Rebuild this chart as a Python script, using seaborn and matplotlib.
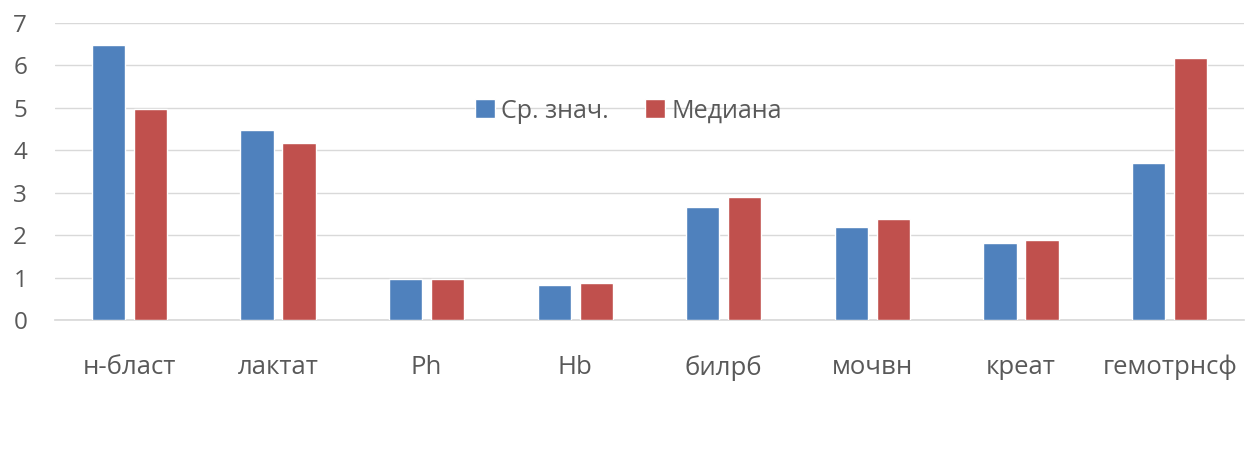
import matplotlib
matplotlib.use("Agg")
import matplotlib.pyplot as plt
import seaborn as sns
import pandas as pd

categories = ["н-бласт", "лактат", "Ph", "Hb", "билрб", "мочвн", "креат", "гемотрнсф"]
mean_vals = [6.47, 4.48, 0.96, 0.83, 2.67, 2.20, 1.81, 3.69]
median_vals = [4.98, 4.18, 0.96, 0.88, 2.89, 2.39, 1.89, 6.18]
series_names = ["Ср. знач.", "Медиана"]
y_ticks = [0, 1, 2, 3, 4, 5, 6, 7]

df = pd.DataFrame({
    "cat": categories * 2,
    "val": mean_vals + median_vals,
    "series": [series_names[0]] * len(categories) + [series_names[1]] * len(categories),
})

sns.set_theme(style="white")
plt.rcParams['font.family'] = ['Open Sans', 'DejaVu Sans']

fig = plt.figure(figsize=(12.57, 4.5), dpi=100)
ax = fig.add_axes([55 / 1257, 1 - 320 / 450, (1244 - 55) / 1257, (320 - 23) / 450])

sns.barplot(data=df, x="cat", y="val", hue="series", order=categories,
            hue_order=series_names, palette=["#4F81BD", "#C0504D"],
            width=0.565, gap=0.21, saturation=1, ax=ax, zorder=3)

ax.set_ylim(0, 7)
ax.set_xlim(-0.5, 7.5)
ax.set_yticks(y_ticks)
ax.set_xlabel("")
ax.set_ylabel("")
ax.yaxis.grid(True, color="#D9D9D9", linewidth=1)
ax.set_axisbelow(True)
for s in ["top", "right", "left"]:
    ax.spines[s].set_visible(False)
ax.spines["bottom"].set_color("#D9D9D9")
ax.tick_params(axis="y", length=0, pad=20, labelsize=17.5, labelcolor="#595959")
ax.tick_params(axis="x", length=0, pad=25, labelsize=18.5, labelcolor="#595959")

leg = ax.legend(loc="center", bbox_to_anchor=((628 - 55) / 1189, (320 - 111) / 297),
                ncol=2, frameon=False, fontsize=18, handlelength=0.8, handleheight=0.8,
                handletextpad=0.25, columnspacing=1.45)
for t in leg.get_texts():
    t.set_color("#595959")

fig.savefig("out.png", dpi=100, facecolor="white")
